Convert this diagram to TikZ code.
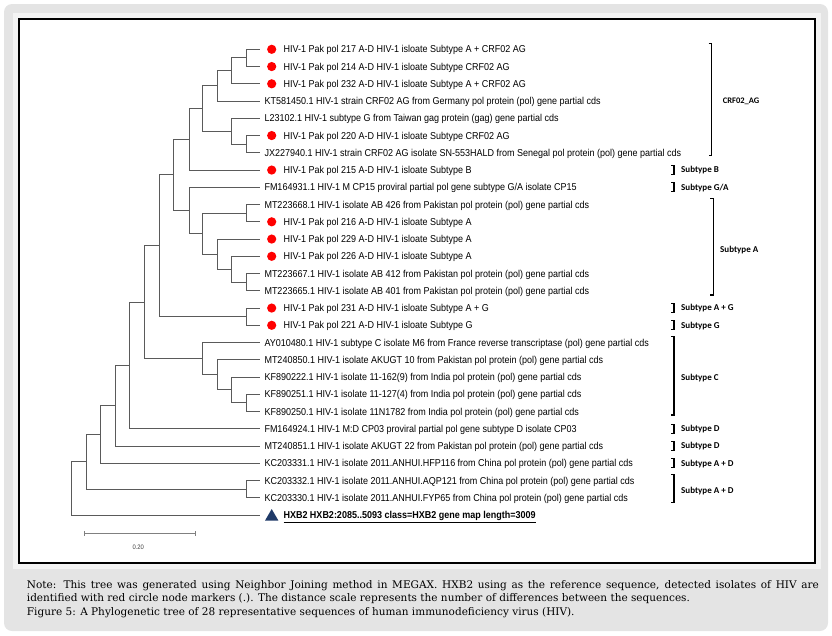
\documentclass[tikz,border=0pt]{standalone}
\usepackage{fontspec}
\setmainfont{DejaVu Serif}
\newfontfamily\leaffont[FakeStretch=0.9]{Liberation Sans}
\newfontfamily\brkfont{Carlito}
\usetikzlibrary{shapes.geometric}
\definecolor{bggrey}{HTML}{E4E4E4}
\definecolor{bandgrey}{HTML}{F3F3F3}
\definecolor{branch}{HTML}{5A5A5A}
\definecolor{navy}{HTML}{1F3A68}
\definecolor{dotred}{HTML}{FF0000}
\definecolor{scalegrey}{HTML}{808080}
\begin{document}
\begin{tikzpicture}[x=1pt,y=-1pt,
  br/.style={draw=branch,line width=1pt,line cap=rect},
  leaf/.style={anchor=west,inner sep=0pt,font=\leaffont\fontsize{10}{12}\selectfont,text height=7.1pt,text depth=0pt},
  dot/.style={circle,fill=dotred,inner sep=0pt,minimum size=9.2pt},
  tri/.style={regular polygon,regular polygon sides=3,fill=navy,inner sep=0pt,minimum size=15.4pt},
  brk/.style={draw=black,line width=1.2pt},
  blab/.style={anchor=west,inner sep=0pt,font=\brkfont\bfseries\fontsize{9}{10}\selectfont},
  captext/.style={anchor=base west,inner sep=0pt,font=\fontsize{10.5}{12}\selectfont}
]
\useasboundingbox (0,0) rectangle (832,635);
\fill[bggrey,rounded corners=8pt] (4,4) rectangle (828,631);
\fill[bandgrey] (13,13) rectangle (821,569);
\filldraw[fill=white,draw=black,line width=1.2pt] (19,19) rectangle (815,563);

% leaves: branch ends
\coordinate (l1) at (259.3,49.3);
\coordinate (l2) at (259.3,66.55);
\coordinate (l3) at (259.3,83.8);
\coordinate (l4) at (259.3,101.05);
\coordinate (l5) at (259.3,118.3);
\coordinate (l6) at (259.3,135.55);
\coordinate (l7) at (259.3,152.8);
\coordinate (l8) at (259.3,170.05);
\coordinate (l9) at (259.3,187.3);
\coordinate (l10) at (259.3,204.55);
\coordinate (l11) at (259.3,221.8);
\coordinate (l12) at (259.3,239.05);
\coordinate (l13) at (259.3,256.3);
\coordinate (l14) at (259.3,273.55);
\coordinate (l15) at (259.3,290.8);
\coordinate (l16) at (259.3,308.05);
\coordinate (l17) at (259.3,325.3);
\coordinate (l18) at (259.3,342.55);
\coordinate (l19) at (259.3,359.8);
\coordinate (l20) at (259.3,377.05);
\coordinate (l21) at (259.3,394.3);
\coordinate (l22) at (259.3,411.55);
\coordinate (l23) at (259.3,428.8);
\coordinate (l24) at (259.3,446.05);
\coordinate (l25) at (259.3,463.3);
\coordinate (l26) at (259.3,480.55);
\coordinate (l27) at (259.3,497.8);
\coordinate (l28) at (259.3,515.05);

% internal nodes
\coordinate (A) at (246.7,57.925);
\coordinate (B) at (231.7,70.8625);
\coordinate (C) at (217.7,85.956);
\coordinate (D) at (246.7,144.175);
\coordinate (E) at (231.7,131.2375);
\coordinate (F) at (202.3,108.597);
\coordinate (G) at (189,139.32);
\coordinate (H) at (246.7,213.175);
\coordinate (I) at (246.7,282.175);
\coordinate (J) at (231.7,269.2375);
\coordinate (K) at (217.7,254.144);
\coordinate (L) at (202.3,233.66);
\coordinate (M) at (189,210.48);
\coordinate (N) at (173,174.9);
\coordinate (O) at (246.7,316.675);
\coordinate (P) at (159.3,245.79);
\coordinate (Q) at (246.7,402.925);
\coordinate (R) at (231.7,389.99);
\coordinate (S) at (217.7,374.89);
\coordinate (T) at (202.3,358.72);
\coordinate (U) at (144,302.25);
\coordinate (V) at (129.3,365.53);
\coordinate (W) at (115,405.79);
\coordinate (X) at (100.3,434.55);
\coordinate (Y) at (246.7,489.175);
\coordinate (Z) at (86,461.86);
\coordinate (root) at (71,488.46);

% branches
\draw[br] (A) |- (l1); \draw[br] (A) |- (l2);
\draw[br] (B) |- (A);  \draw[br] (B) |- (l3);
\draw[br] (C) |- (B);  \draw[br] (C) |- (l4);
\draw[br] (D) |- (l6); \draw[br] (D) |- (l7);
\draw[br] (E) |- (l5); \draw[br] (E) |- (D);
\draw[br] (F) |- (C);  \draw[br] (F) |- (E);
\draw[br] (G) |- (F);  \draw[br] (G) |- (l8);
\draw[br] (H) |- (l10); \draw[br] (H) |- (l11);
\draw[br] (I) |- (l14); \draw[br] (I) |- (l15);
\draw[br] (J) |- (l13); \draw[br] (J) |- (I);
\draw[br] (K) |- (l12); \draw[br] (K) |- (J);
\draw[br] (L) |- (H);  \draw[br] (L) |- (K);
\draw[br] (M) |- (l9); \draw[br] (M) |- (L);
\draw[br] (N) |- (G);  \draw[br] (N) |- (M);
\draw[br] (O) |- (l16); \draw[br] (O) |- (l17);
\draw[br] (P) |- (N);  \draw[br] (P) |- (O);
\draw[br] (Q) |- (l21); \draw[br] (Q) |- (l22);
\draw[br] (R) |- (l20); \draw[br] (R) |- (Q);
\draw[br] (S) |- (l19); \draw[br] (S) |- (R);
\draw[br] (T) |- (l18); \draw[br] (T) |- (S);
\draw[br] (U) |- (P);  \draw[br] (U) |- (T);
\draw[br] (V) |- (U);  \draw[br] (V) |- (l23);
\draw[br] (W) |- (V);  \draw[br] (W) |- (l24);
\draw[br] (X) |- (W);  \draw[br] (X) |- (l25);
\draw[br] (Y) |- (l26); \draw[br] (Y) |- (l27);
\draw[br] (Z) |- (X);  \draw[br] (Z) |- (Y);
\draw[br] (root) |- (Z); \draw[br] (root) |- (l28);

% markers
\node[dot] (d1) at (271.7,49.3) {};
\node[dot] (d2) at (271.7,66.55) {};
\node[dot] (d3) at (271.7,83.8) {};
\node[dot] (d6) at (271.7,135.55) {};
\node[dot] (d8) at (271.7,170.05) {};
\node[dot] (d11) at (271.7,221.8) {};
\node[dot] (d12) at (271.7,239.05) {};
\node[dot] (d13) at (271.7,256.3) {};
\node[dot] (d16) at (271.7,308.05) {};
\node[dot] (d17) at (271.7,325.3) {};
\node[tri] (m28) at (271.7,516.7) {};

% leaf labels
\node[leaf] (t1) at (283.3,49.3) {HIV-1 Pak pol 217 A-D HIV-1 isloate Subtype A + CRF02 AG};
\node[leaf] (t2) at (283.3,66.55) {HIV-1 Pak pol 214 A-D HIV-1 isloate Subtype CRF02 AG};
\node[leaf] (t3) at (283.3,83.8) {HIV-1 Pak pol 232 A-D HIV-1 isloate Subtype A + CRF02 AG};
\node[leaf] (t4) at (264.3,101.05) {KT581450.1 HIV-1 strain CRF02 AG from Germany pol protein (pol) gene partial cds};
\node[leaf] (t5) at (264.3,118.3) {L23102.1 HIV-1 subtype G from Taiwan gag protein (gag) gene partial cds};
\node[leaf] (t6) at (283.3,135.55) {HIV-1 Pak pol 220 A-D HIV-1 isloate Subtype CRF02 AG};
\node[leaf] (t7) at (264.3,152.8) {JX227940.1 HIV-1 strain CRF02 AG isolate SN-553HALD from Senegal pol protein (pol) gene partial cds};
\node[leaf] (t8) at (283.3,170.05) {HIV-1 Pak pol 215 A-D HIV-1 isloate Subtype B};
\node[leaf] (t9) at (264.3,187.3) {FM164931.1 HIV-1 M CP15 proviral partial pol gene subtype G/A isolate CP15};
\node[leaf] (t10) at (264.3,204.55) {MT223668.1 HIV-1 isolate AB 426 from Pakistan pol protein (pol) gene partial cds};
\node[leaf] (t11) at (283.3,221.8) {HIV-1 Pak pol 216 A-D HIV-1 isloate Subtype A};
\node[leaf] (t12) at (283.3,239.05) {HIV-1 Pak pol 229 A-D HIV-1 isloate Subtype A};
\node[leaf] (t13) at (283.3,256.3) {HIV-1 Pak pol 226 A-D HIV-1 isloate Subtype A};
\node[leaf] (t14) at (264.3,273.55) {MT223667.1 HIV-1 isolate AB 412 from Pakistan pol protein (pol) gene partial cds};
\node[leaf] (t15) at (264.3,290.8) {MT223665.1 HIV-1 isolate AB 401 from Pakistan pol protein (pol) gene partial cds};
\node[leaf] (t16) at (283.3,308.05) {HIV-1 Pak pol 231 A-D HIV-1 isloate Subtype A + G};
\node[leaf] (t17) at (283.3,325.3) {HIV-1 Pak pol 221 A-D HIV-1 isloate Subtype G};
\node[leaf] (t18) at (264.3,342.55) {AY010480.1 HIV-1 subtype C isolate M6 from France reverse transcriptase (pol) gene partial cds};
\node[leaf] (t19) at (264.3,359.8) {MT240850.1 HIV-1 isolate AKUGT 10 from Pakistan pol protein (pol) gene partial cds};
\node[leaf] (t20) at (264.3,377.05) {KF890222.1 HIV-1 isolate 11-162(9) from India pol protein (pol) gene partial cds};
\node[leaf] (t21) at (264.3,394.3) {KF890251.1 HIV-1 isolate 11-127(4) from India pol protein (pol) gene partial cds};
\node[leaf] (t22) at (264.3,411.55) {KF890250.1 HIV-1 isolate 11N1782 from India pol protein (pol) gene partial cds};
\node[leaf] (t23) at (264.3,428.8) {FM164924.1 HIV-1 M:D CP03 proviral partial pol gene subtype D isolate CP03};
\node[leaf] (t24) at (264.3,446.05) {MT240851.1 HIV-1 isolate AKUGT 22 from Pakistan pol protein (pol) gene partial cds};
\node[leaf] (t25) at (264.3,463.3) {KC203331.1 HIV-1 isolate 2011.ANHUI.HFP116 from China pol protein (pol) gene partial cds};
\node[leaf] (t26) at (264.3,480.55) {KC203332.1 HIV-1 isolate 2011.ANHUI.AQP121 from China pol protein (pol) gene partial cds};
\node[leaf] (t27) at (264.3,497.8) {KC203330.1 HIV-1 isolate 2011.ANHUI.FYP65 from China pol protein (pol) gene partial cds};
\node[leaf,font=\leaffont\bfseries\fontsize{10}{12}\selectfont] (t28) at (283.3,515.05) {\underline{HXB2 HXB2:2085..5093 class=HXB2 gene map length=3009}};

% brackets
\draw[brk] (708.7,43.3) -- (711.7,43.3) -- (711.7,155.7) -- (708.7,155.7);
\node[blab,font=\brkfont\bfseries\fontsize{8.5}{10}\selectfont] (bCRF) at (722.7,101.7) {CRF02\_AG};
\draw[brk] (671,165.5) -- (674,165.5) -- (674,174.5) -- (671,174.5);
\node[blab] (bB) at (681,170.5) {Subtype B};
\draw[brk] (671,182.8) -- (674,182.8) -- (674,191.8) -- (671,191.8);
\node[blab] (bGA) at (681,187.8) {Subtype G/A};
\draw[brk] (710.3,198.3) -- (713.3,198.3) -- (713.3,295) -- (710.3,295);
\node[blab] (bA) at (720,250) {Subtype A};
\draw[brk] (671,303.5) -- (674,303.5) -- (674,312.5) -- (671,312.5);
\node[blab] (bAG) at (681,308.5) {Subtype A + G};
\draw[brk] (671,320.8) -- (674,320.8) -- (674,329.8) -- (671,329.8);
\node[blab] (bG) at (681,325.8) {Subtype G};
\draw[brk] (671,336.7) -- (674,336.7) -- (674,415) -- (671,415);
\node[blab] (bC) at (681,377.7) {Subtype C};
\draw[brk] (671,424.3) -- (674,424.3) -- (674,433.3) -- (671,433.3);
\node[blab] (bD1) at (681,429.3) {Subtype D};
\draw[brk] (671,441.5) -- (674,441.5) -- (674,450.5) -- (671,450.5);
\node[blab] (bD2) at (681,446.5) {Subtype D};
\draw[brk] (671,458.8) -- (674,458.8) -- (674,467.8) -- (671,467.8);
\node[blab] (bAD1) at (681,463.8) {Subtype A + D};
\draw[brk] (671,474.3) -- (674,474.3) -- (674,502.7) -- (671,502.7);
\node[blab] (bAD2) at (681,490.7) {Subtype A + D};

% scale bar
\coordinate (s1) at (84.5,533.3);
\coordinate (s2) at (195,533.3);
\draw[scalegrey,line width=1pt] (s1) -- (s2);
\draw[scalegrey,line width=1pt] ([yshift=-2.5pt]s1) -- ([yshift=2.5pt]s1);
\draw[scalegrey,line width=1pt] ([yshift=-2.5pt]s2) -- ([yshift=2.5pt]s2);
\node[inner sep=0pt,text=black!75,font=\leaffont\fontsize{6.5}{8}\selectfont] (sl) at (138.3,547.7) {0.20};

% caption
\node[captext] (n1) at (26.7,588.5) {\makebox[792pt][s]{Note: This tree was generated using Neighbor Joining method in MEGAX. HXB2 using as the reference sequence, detected isolates of HIV are}};
\node[captext] (n2) at (26.7,601) {identified with red circle node markers (.). The distance scale represents the number of differences between the sequences.};
\node[captext] (n3) at (26.7,615.5) {Figure 5: A Phylogenetic tree of 28 representative sequences of human immunodeficiency virus (HIV).};
\end{tikzpicture}
\end{document}
